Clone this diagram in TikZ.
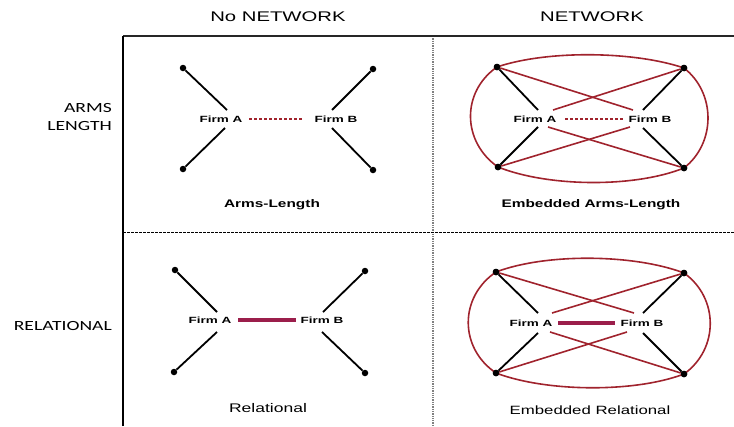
\documentclass[tikz,border=0pt]{standalone}
\usepackage{fontspec}
\setmainfont{Liberation Sans}
\newfontfamily\hdfont[FakeStretch=1.45]{Liberation Sans}
\newfontfamily\rowfont[FakeStretch=1.4]{Carlito}
\newfontfamily\labfont[FakeStretch=1.4]{Liberation Sans}
\newfontfamily\firmfont[FakeStretch=1.5]{Liberation Sans}
\definecolor{netred}{RGB}{160,35,45}
\definecolor{barred}{RGB}{155,30,75}
\tikzset{
  dot/.style={circle,fill=black,inner sep=0pt,minimum size=6.5pt},
  firm/.style={inner sep=0pt,font=\firmfont\fontsize{9}{10}\selectfont\bfseries},
  title/.style={inner sep=0pt,font=\labfont\fontsize{11}{12}\selectfont\bfseries},
  rtitle/.style={inner sep=0pt,font=\labfont\fontsize{12}{13}\selectfont},
  hd/.style={inner sep=0pt,font=\hdfont\fontsize{14}{16}\selectfont},
  row/.style={inner sep=0pt,font=\rowfont\fontsize{14}{18}\selectfont,align=right,anchor=east},
  tie/.style={line width=1.8pt,black},
  net/.style={line width=1.6pt,netred},
  weak/.style={line width=1.1pt,netred,dash pattern=on 3pt off 2pt},
  strong/.style={line width=4.5pt,barred}
}
\begin{document}
\begin{tikzpicture}[x=1pt,y=-1pt]
\useasboundingbox (0,0) rectangle (734,426);
% headers
\node[hd] (h1) at (278,17) {No NETWORK};
\node[hd] (h2) at (592,17) {NETWORK};
\node[row] (r1) at (112,117) {ARMS\\LENGTH};
\node[row] (r2) at (112,326) {RELATIONAL};
% frame
\coordinate (fTL) at (123,36);
\coordinate (fTR) at (734,36);
\coordinate (fBL) at (123,426);
\coordinate (mT) at (433,36);
\coordinate (mB) at (433,426);
\coordinate (mL) at (123,232);
\coordinate (mR) at (734,232);
\draw[line width=1.3pt,black!50,densely dotted] (mT) -- (mB);
\draw[line width=0.8pt,black,dash pattern=on 2.5pt off 1.5pt] (mL) -- (mR);
\draw[line width=2pt,black!85] (fTL) -- (fTR);
\draw[line width=2.5pt,black] (fBL) -- (fTL);

% ---------- top-left: Arms-Length ----------
\node[dot] (a1) at (183,68) {};
\node[dot] (a2) at (373,69) {};
\node[dot] (a3) at (183,169) {};
\node[dot] (a4) at (373,170) {};
\node[firm] (aA) at (221,119) {Firm A};
\node[firm] (aB) at (336,119) {Firm B};
\coordinate (aA1) at (227,110); \coordinate (aB1) at (332,110);
\coordinate (aA2) at (225,128); \coordinate (aB2) at (332,128);
\coordinate (aw1) at (249,119); \coordinate (aw2) at (303,119);
\draw[tie] (a1) -- (aA1);
\draw[tie] (a2) -- (aB1);
\draw[tie] (a3) -- (aA2);
\draw[tie] (a4) -- (aB2);
\draw[weak] (aw1) -- (aw2);
\node[title] (t1) at (272,205) {Arms-Length};

% ---------- top-right: Embedded Arms-Length ----------
\node[dot] (b1) at (497,67) {};
\node[dot] (b2) at (684,68) {};
\node[dot] (b3) at (498,167) {};
\node[dot] (b4) at (684,168) {};
\node[firm] (bA) at (535,119) {Firm A};
\node[firm] (bB) at (650,119) {Firm B};
\coordinate (bA1) at (538,110); \coordinate (bB1) at (643,110);
\coordinate (bA2) at (538,127); \coordinate (bB2) at (643,128);
\coordinate (bx1) at (633,110); \coordinate (bx2) at (553,110);
\coordinate (bx3) at (630,127); \coordinate (bx4) at (548,127);
\coordinate (bw1) at (565,119); \coordinate (bw2) at (623,119);
\draw[net] (b1.center) .. controls +(50,-17) and +(-50,-17) .. (b2.center);
\draw[net] (b2.center) .. controls +(32,25) and +(32,-25) .. (b4.center);
\draw[net] (b4.center) .. controls +(-50,20) and +(50,20) .. (b3.center);
\draw[net] (b3.center) .. controls +(-36,-25) and +(-36,25) .. (b1.center);
\draw[net] (b1) -- (bx1);
\draw[net] (b2) -- (bx2);
\draw[net] (b3) -- (bx3);
\draw[net] (b4) -- (bx4);
\draw[tie] (b1) -- (bA1);
\draw[tie] (b2) -- (bB1);
\draw[tie] (b3) -- (bA2);
\draw[tie] (b4) -- (bB2);
\draw[weak] (bw1) -- (bw2);
\node[dot] at (b1) {};\node[dot] at (b2) {};\node[dot] at (b3) {};\node[dot] at (b4) {};
\node[title] (t2) at (591,205) {Embedded Arms-Length};

% ---------- bottom-left: Relational ----------
\node[dot] (c1) at (175,270) {};
\node[dot] (c2) at (365,271) {};
\node[dot] (c3) at (174,372) {};
\node[dot] (c4) at (365,373) {};
\node[firm] (cA) at (210,320) {Firm A};
\node[firm] (cB) at (322,320) {Firm B};
\coordinate (cA1) at (217,312); \coordinate (cB1) at (323,312);
\coordinate (cA2) at (217,332); \coordinate (cB2) at (322,332);
\coordinate (cs1) at (238,320); \coordinate (cs2) at (296,320);
\draw[tie] (c1) -- (cA1);
\draw[tie] (c2) -- (cB1);
\draw[tie] (c3) -- (cA2);
\draw[tie] (c4) -- (cB2);
\draw[strong] (cs1) -- (cs2);
\node[rtitle,font=\labfont\fontsize{12.5}{14}\selectfont] (t3) at (268,408) {Relational};

% ---------- bottom-right: Embedded Relational ----------
\node[dot] (d1) at (496,272) {};
\node[dot] (d2) at (684,273) {};
\node[dot] (d3) at (496,373) {};
\node[dot] (d4) at (684,374) {};
\node[firm] (dA) at (531,323) {Firm A};
\node[firm] (dB) at (642,323) {Firm B};
\coordinate (dA1) at (538,313); \coordinate (dB1) at (643,313);
\coordinate (dA2) at (538,333); \coordinate (dB2) at (643,333);
\coordinate (dx1) at (634,313); \coordinate (dx2) at (552,313);
\coordinate (dx3) at (627,332); \coordinate (dx4) at (550,332);
\coordinate (ds1) at (558,323); \coordinate (ds2) at (615,323);
\draw[net] (d1.center) .. controls +(50,-19) and +(-50,-19) .. (d2.center);
\draw[net] (d2.center) .. controls +(35,25) and +(35,-25) .. (d4.center);
\draw[net] (d4.center) .. controls +(-50,19) and +(50,19) .. (d3.center);
\draw[net] (d3.center) .. controls +(-37,-25) and +(-37,25) .. (d1.center);
\draw[net] (d1) -- (dx1);
\draw[net] (d2) -- (dx2);
\draw[net] (d3) -- (dx3);
\draw[net] (d4) -- (dx4);
\draw[tie] (d1) -- (dA1);
\draw[tie] (d2) -- (dB1);
\draw[tie] (d3) -- (dA2);
\draw[tie] (d4) -- (dB2);
\draw[strong] (ds1) -- (ds2);
\node[dot] at (d1) {};\node[dot] at (d2) {};\node[dot] at (d3) {};\node[dot] at (d4) {};
\node[rtitle] (t4) at (590,410) {Embedded Relational};
\end{tikzpicture}
\end{document}
